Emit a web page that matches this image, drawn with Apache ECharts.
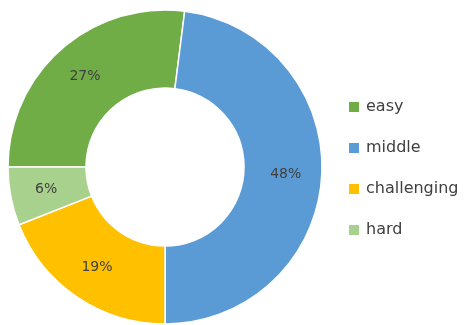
<!DOCTYPE html>
<html>
<head>
<meta charset="utf-8">
<script src="https://cdn.jsdelivr.net/npm/echarts@6/dist/echarts.min.js"></script>
<style>html,body{margin:0;padding:0;background:#fff;}#c{width:472px;height:325px;}</style>
</head>
<body>
<div id="c"></div>
<script>
var categories = ['easy', 'middle', 'challenging', 'hard'];
var values = [27, 48, 19, 6];
var colors = ['#70AD47', '#5B9BD5', '#FFC000', '#A9D18E'];

var chart = echarts.init(document.getElementById('c'), null, {renderer: 'canvas'});
var data = categories.map(function (c, i) {
  return {name: c, value: values[i], itemStyle: {color: colors[i]}};
});
chart.setOption({
  animation: false,
  backgroundColor: '#fff',
  legend: {
    orient: 'vertical',
    left: 347,
    top: 99,
    padding: 0,
    itemWidth: 12,
    itemHeight: 12,
    itemGap: 25,
    icon: 'rect',
    data: categories,
    textStyle: {color: '#404040', fontSize: 16, fontFamily: 'DejaVu Sans', padding: [0, 0, 0, 1]}
  },
  series: [{
    type: 'pie',
    center: [165, 167],
    radius: [79, 157],
    startAngle: 180,
    clockwise: true,
    data: data,
    itemStyle: {borderColor: '#fff', borderWidth: 1.5},
    label: {
      show: true,
      position: 'inside',
      color: '#404040',
      fontSize: 14,
      fontFamily: 'DejaVu Sans',
      formatter: function (p) { return Math.round(p.percent) + '%'; }
    },
    labelLine: {show: false},
    emphasis: {disabled: true}
  }]
});
</script>
</body>
</html>
